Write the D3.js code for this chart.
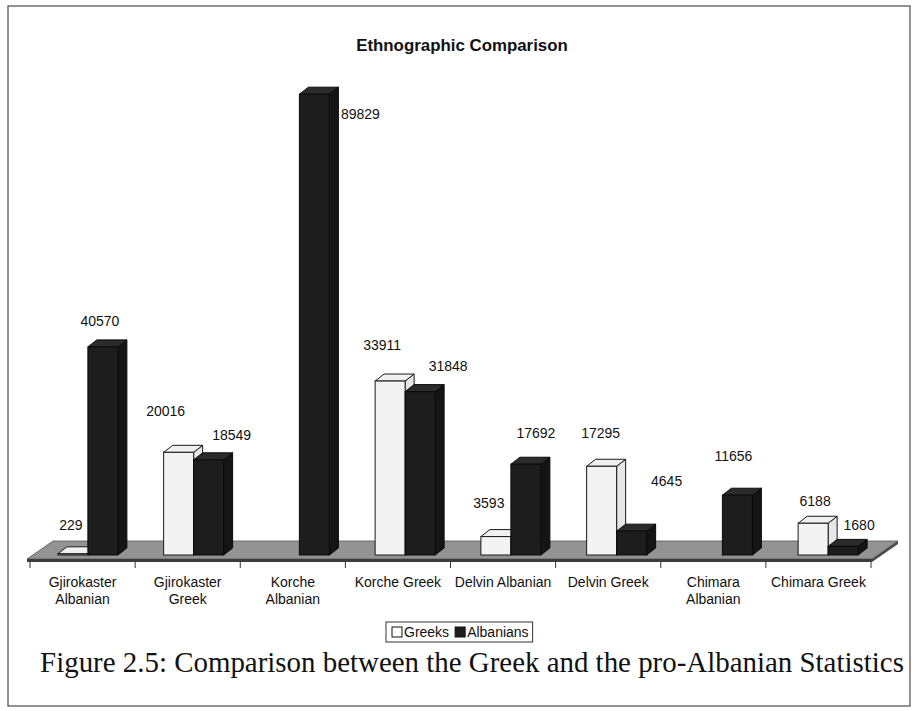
<!DOCTYPE html>
<html>
<head>
<meta charset="utf-8">
<script src="https://cdn.jsdelivr.net/npm/d3@7"></script>
<style>
  html, body { margin: 0; padding: 0; background: #ffffff; }
  svg { display: block; }
</style>
</head>
<body>
<svg id="chart" width="917" height="711"></svg>
<script>
// ---- data ----
const categories = [
  "Gjirokaster Albanian", "Gjirokaster Greek", "Korche Albanian", "Korche Greek",
  "Delvin Albanian", "Delvin Greek", "Chimara Albanian", "Chimara Greek"
];
const seriesNames = ["Greeks", "Albanians"];
const greeks    = [229, 20016, null, 33911, 3593, 17295, null, 6188];
const albanians = [40570, 18549, 89829, 31848, 17692, 4645, 11656, 1680];

// ---- label placement tweaks (offset from the top of each column, px) ----
const greekLabelShift    = [[-2, -29], [-13, -41], null, [-8, -36], [-7, -34], [-1, -33], null, [2, -22]];
const albanianLabelShift = [[-3, -26], [23, -25], [46, 20], [28, -26], [10, -31], [35, -50], [-4, -39], [16, -21]];

const W = 917, H = 711;
const svg = d3.select("#chart");
const sans = "'Liberation Sans', Arial, Helvetica, sans-serif";
const serif = "'Liberation Serif', 'Times New Roman', Times, serif";

// outer frame
svg.append("rect")
  .attr("x", 8).attr("y", 6).attr("width", 902).attr("height", 700)
  .attr("fill", "#fff").attr("stroke", "#4a4a4a").attr("stroke-width", 1.2);

// fit a text element's font-size to a target width
function fitWidth(sel, target) {
  const fs = parseFloat(sel.attr("font-size"));
  const w = sel.node().getComputedTextLength();
  sel.attr("font-size", (fs * target / w).toFixed(2));
}

// title
const title = svg.append("text")
  .attr("x", 462).attr("y", 51)
  .attr("text-anchor", "middle")
  .attr("font-family", sans).attr("font-weight", "bold")
  .attr("font-size", 16).attr("fill", "#111")
  .text("Ethnographic Comparison");
fitWidth(title, 212);

// ---- scales ----
// category axis along the front edge of the floor
const xAxisBand = d3.scaleBand().domain(categories).range([30, 871]).paddingInner(0).paddingOuter(0);
// column plane, set back into the floor
const xBar = d3.scaleBand().domain(categories).range([35, 881]).paddingInner(0).paddingOuter(0);
const y = d3.scaleLinear().domain([0, 100000]).range([555, 42]);

const colW = 30;            // front-face width of one column
const depth = [9, -7];      // receding offset of the column depth
const floorDepth = [26, -18];

// ---- floor ----
const fl = 27, fr = 872, fy = 559;
svg.append("polygon")
  .attr("points", [[fl, fy], [fr, fy], [fr + floorDepth[0], fy + floorDepth[1]], [fl + floorDepth[0], fy + floorDepth[1]]].map(p => p.join(",")).join(" "))
  .attr("fill", "#939393").attr("stroke", "#555").attr("stroke-width", 0.8);
svg.append("polygon")
  .attr("points", [[fl, fy], [fr, fy], [fr, fy + 3], [fl, fy + 3]].map(p => p.join(",")).join(" "))
  .attr("fill", "#3c3c3c");
svg.append("polygon")
  .attr("points", [[fr, fy], [fr + floorDepth[0], fy + floorDepth[1]], [fr + floorDepth[0], fy + floorDepth[1] + 3], [fr, fy + 3]].map(p => p.join(",")).join(" "))
  .attr("fill", "#4a4a4a");

// ---- category axis ----
const axisG = svg.append("g").attr("transform", `translate(0, ${fy + 3})`);
const boundaries = [xAxisBand.range()[0]].concat(categories.map(c => xAxisBand(c) + xAxisBand.step()));
axisG.selectAll("line.tick")
  .data(boundaries)
  .join("line")
  .attr("class", "tick")
  .attr("x1", d => d).attr("x2", d => d)
  .attr("y1", 0).attr("y2", 6)
  .attr("stroke", "#333").attr("stroke-width", 1);

const labelG = svg.append("g")
  .attr("transform", `translate(0, ${fy + 28})`)
  .call(d3.axisBottom(xAxisBand).tickSize(0).tickPadding(0));
labelG.select(".domain").remove();
labelG.selectAll(".tick text")
  .attr("font-family", sans).attr("font-size", 14).attr("fill", "#111")
  .attr("dy", 0).attr("y", 0)
  .each(function (d) {
    // wrap the label into lines no wider than the category slot
    const t = d3.select(this);
    const words = d.split(" ");
    t.text(null);
    let line = [];
    let tspan = t.append("tspan").attr("x", 0).attr("dy", 0);
    words.forEach(w => {
      line.push(w);
      tspan.text(line.join(" "));
      if (tspan.node().getComputedTextLength() > 99 && line.length > 1) {
        line.pop();
        tspan.text(line.join(" "));
        line = [w];
        tspan = t.append("tspan").attr("x", 0).attr("dy", 17).text(w);
      }
    });
  });

// ---- columns ----
function column(g, x0, value, palette) {
  const yb = y(0), yt = y(value);
  const [dx, dy] = depth;
  const pts = a => a.map(p => p.join(",")).join(" ");
  g.append("polygon")
    .attr("points", pts([[x0 + colW, yb], [x0 + colW + dx, yb + dy], [x0 + colW + dx, yt + dy], [x0 + colW, yt]]))
    .attr("fill", palette.side).attr("stroke", palette.stroke).attr("stroke-width", 1).attr("stroke-linejoin", "round");
  g.append("polygon")
    .attr("points", pts([[x0, yt], [x0 + dx, yt + dy], [x0 + colW + dx, yt + dy], [x0 + colW, yt]]))
    .attr("fill", palette.top).attr("stroke", palette.stroke).attr("stroke-width", 1).attr("stroke-linejoin", "round");
  g.append("rect")
    .attr("x", x0).attr("y", yt).attr("width", colW).attr("height", yb - yt)
    .attr("fill", palette.front).attr("stroke", palette.stroke).attr("stroke-width", 1);
}

const whiteCol = { front: "#f3f3f3", side: "#e6e6e6", top: "#f0f0f0", stroke: "#1a1a1a" };
const blackCol = { front: "#1d1d1d", side: "#151515", top: "#2b2b2b", stroke: "#0a0a0a" };

const barsG = svg.append("g");
const labelsG = svg.append("g")
  .attr("font-family", sans).attr("font-size", 14).attr("fill", "#111")
  .attr("text-anchor", "middle");

categories.forEach((c, i) => {
  const mid = xBar(c) + xBar.bandwidth() / 2;
  const g = barsG.append("g");
  if (greeks[i] != null) column(g, mid - colW, greeks[i], whiteCol);
  column(g, mid, albanians[i], blackCol);

  if (greeks[i] != null) {
    const s = greekLabelShift[i];
    labelsG.append("text")
      .attr("x", mid - colW / 2 + s[0]).attr("y", y(greeks[i]) + s[1])
      .attr("dominant-baseline", "central")
      .text(greeks[i]);
  }
  const s = albanianLabelShift[i];
  labelsG.append("text")
    .attr("x", mid + colW / 2 + s[0]).attr("y", y(albanians[i]) + s[1])
    .attr("dominant-baseline", "central")
    .text(albanians[i]);
});

// ---- legend ----
const legend = svg.append("g").attr("transform", "translate(386, 622)");
const legendBox = legend.append("rect")
  .attr("x", 0).attr("y", 0).attr("height", 20)
  .attr("fill", "#fff").attr("stroke", "#333").attr("stroke-width", 1);
let lx = 6;
seriesNames.forEach((name, i) => {
  legend.append("rect")
    .attr("x", lx).attr("y", 5).attr("width", 10).attr("height", 10)
    .attr("fill", i === 0 ? "#fff" : "#1d1d1d").attr("stroke", "#111").attr("stroke-width", 1);
  const t = legend.append("text")
    .attr("x", lx + 12).attr("y", 15)
    .attr("font-family", sans).attr("font-size", 14).attr("fill", "#111")
    .text(name);
  lx += 12 + t.node().getComputedTextLength() + 6;
});
legendBox.attr("width", lx - 2);

// ---- caption ----
const caption = svg.append("text")
  .attr("x", 472).attr("y", 672)
  .attr("text-anchor", "middle")
  .attr("font-family", serif).attr("font-size", 26).attr("fill", "#111")
  .text("Figure 2.5: Comparison between the Greek and the pro-Albanian Statistics");
fitWidth(caption, 864);
</script>
</body>
</html>
